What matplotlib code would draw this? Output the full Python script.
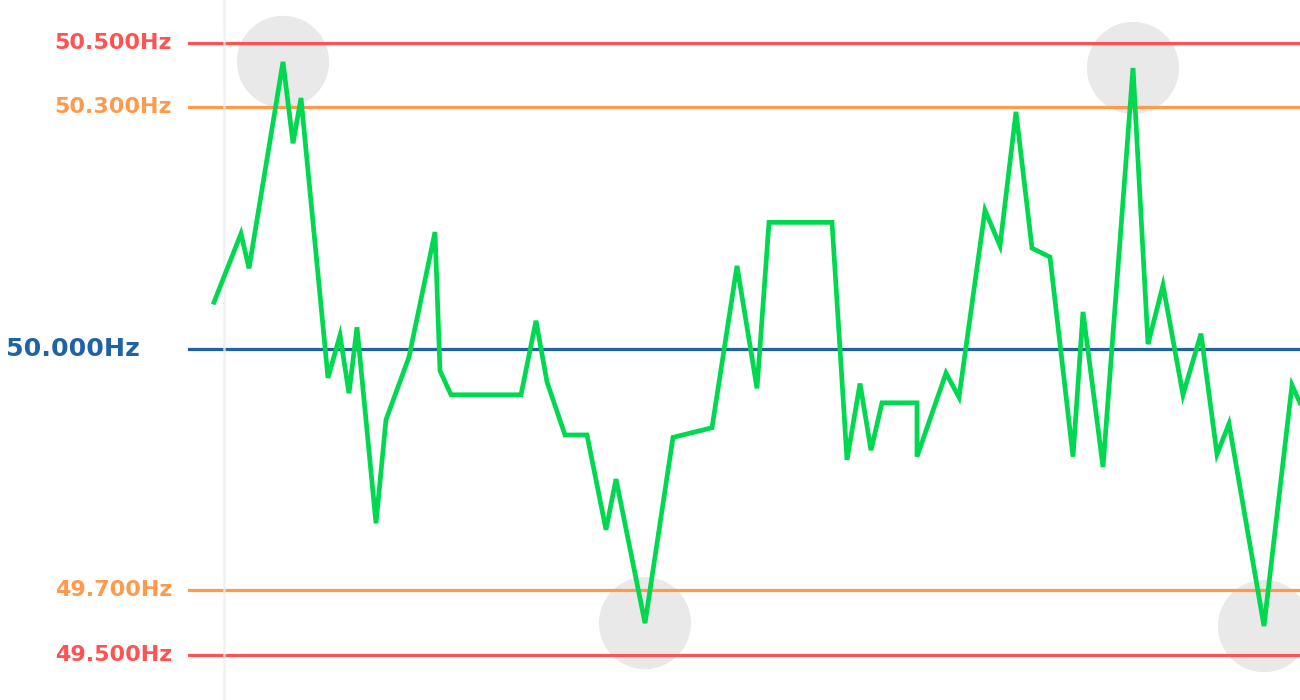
import numpy as np
import matplotlib
matplotlib.use("Agg")
import matplotlib.pyplot as plt
from matplotlib.scale import FuncScale

# ---- data ----
time_s = [214, 241, 249, 283, 293, 301, 328, 340, 349, 357, 376, 386, 409, 435, 440,
          451, 521, 536, 547, 565, 587, 606, 616, 645, 673, 712, 737, 757, 769, 832,
          847, 860, 871, 882, 917, 917, 946, 959, 985, 1000, 1016, 1032, 1050, 1073, 1083,
          1103, 1133, 1148, 1163, 1183, 1201, 1217, 1229, 1264, 1292, 1300]
freq_hz = [50.058, 50.143, 50.100, 50.441, 50.255, 50.328, 49.964, 50.017, 49.945, 50.027,
           49.783, 49.912, 49.990, 50.145, 49.973, 49.943, 49.943, 50.035, 49.959, 49.893,
           49.893, 49.775, 49.838, 49.598, 49.890, 49.902, 50.103, 49.951, 50.157, 50.157,
           49.862, 49.957, 49.874, 49.933, 49.933, 49.866, 49.970, 49.940, 50.172, 50.128,
           50.294, 50.125, 50.114, 49.866, 50.046, 49.853, 50.422, 50.006, 50.079, 49.943,
           50.019, 49.869, 49.907, 49.589, 49.955, 49.933]
highlight_idx = [3, 23, 46, 53]

ref_levels = [50.5, 50.3, 50.0, 49.7, 49.5]
ref_labels = ["50.500Hz", "50.300Hz", "50.000Hz", "49.700Hz", "49.500Hz"]
ref_colors = ["#ff5252", "#ff9a4d", "#1f62a6", "#ff9a4d", "#ff5252"]

# ---- piecewise-linear frequency scale ----
knots_hz = np.array([49.5, 49.7, 50.0, 50.3, 50.5])
knots_u = np.array([0.0, 65.0, 306.0, 548.0, 612.0])
lo_slope = 325.0
hi_slope = 320.0

def fwd(v):
    v = np.asarray(v, dtype=float)
    out = np.interp(v, knots_hz, knots_u)
    out = np.where(v < knots_hz[0], (v - knots_hz[0]) * lo_slope, out)
    out = np.where(v > knots_hz[-1], knots_u[-1] + (v - knots_hz[-1]) * hi_slope, out)
    return out

def inv(u):
    u = np.asarray(u, dtype=float)
    out = np.interp(u, knots_u, knots_hz)
    out = np.where(u < knots_u[0], knots_hz[0] + u / lo_slope, out)
    out = np.where(u > knots_u[-1], knots_hz[-1] + (u - knots_u[-1]) / hi_slope, out)
    return out

W, H = 1300, 700
fig = plt.figure(figsize=(W / 100, H / 100), dpi=100)
ax = fig.add_axes([188 / W, 0, 1 - 188 / W, 1])
ax.set_yscale(FuncScale(ax, (fwd, inv)))
ax.set_xlim(188, 1300)
ax.set_ylim(49.5 - 45 / lo_slope, 50.5 + 43 / hi_slope)
for s in ax.spines.values():
    s.set_visible(False)
ax.set_xticks([])
ax.set_yticks([])

# highlight circles
ax.scatter([time_s[i] for i in highlight_idx], [freq_hz[i] for i in highlight_idx],
           s=4400, color="#e9e9e9", edgecolors="none", zorder=1)

# reference lines
for lvl, col in zip(ref_levels, ref_colors):
    ax.axhline(lvl, color=col, lw=2.3, zorder=2)

# light vertical guide
ax.axvline(224, color="#eeeeee", lw=1.8, alpha=0.8, zorder=3)

# frequency line
ax.plot(time_s, freq_hz, color="#00d94f", lw=3.4, solid_joinstyle="miter", zorder=4)

# labels
for lvl, lab, col in zip(ref_levels, ref_labels, ref_colors):
    big = lvl == 50.0
    ax.annotate(lab, xy=(0, lvl), xycoords=("axes fraction", "data"),
                xytext=(-48 if big else -16, 0), textcoords="offset pixels",
                ha="right", va="center", color=col, fontsize=18.2 if big else 16,
                fontweight="bold", family=["DejaVu Sans"],
                annotation_clip=False)

fig.savefig("out.png", dpi=100)
